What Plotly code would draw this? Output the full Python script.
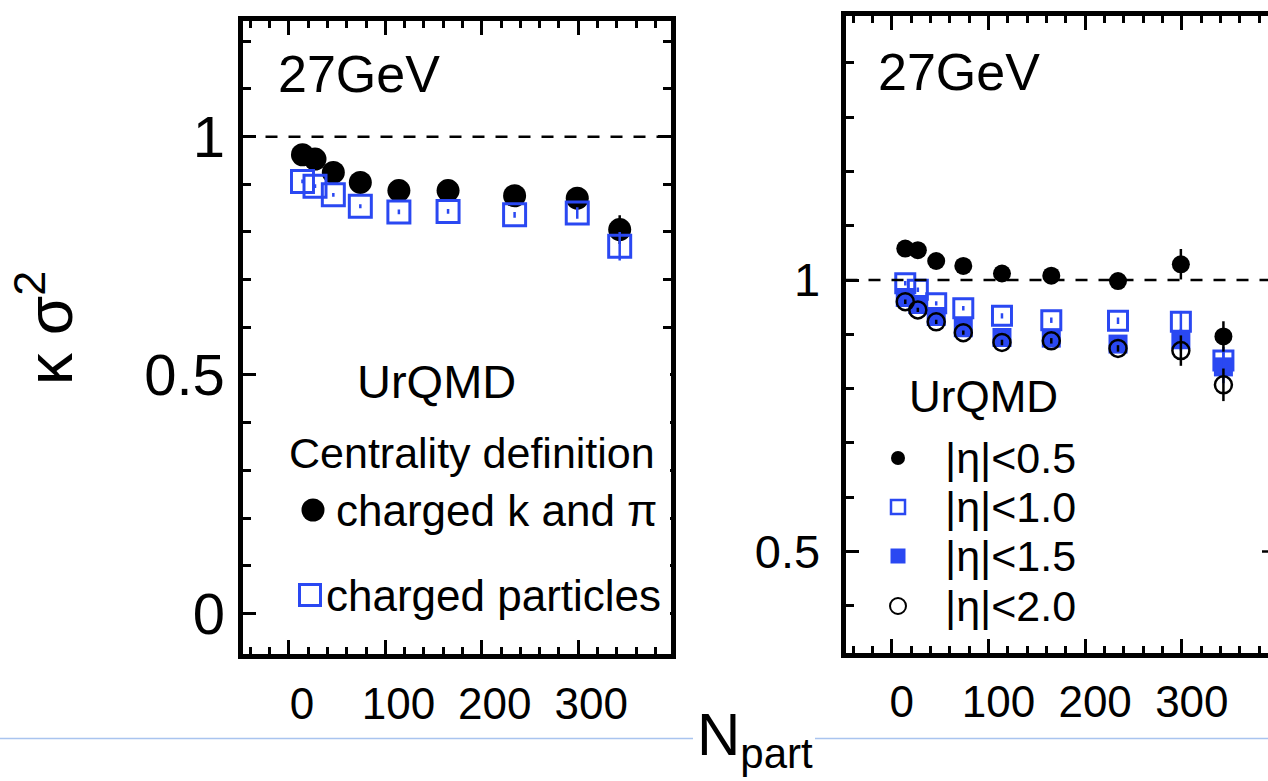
import plotly.graph_objects as go

W, H = 1268, 781

# ---------------- data ----------------
npart = [14, 27, 46, 74, 114, 165, 234, 299, 343]

# left panel: centrality definition
kpi_vals = [0.962, 0.953, 0.925, 0.904, 0.887, 0.887, 0.876, 0.871, 0.805]
kpi_errs = [0.004, 0.004, 0.004, 0.004, 0.005, 0.005, 0.006, 0.012, 0.030]
chg_vals = [0.906, 0.896, 0.878, 0.854, 0.842, 0.843, 0.836, 0.840, 0.770]
chg_errs = [0.004, 0.004, 0.004, 0.004, 0.005, 0.005, 0.006, 0.012, 0.030]

# right panel: eta windows
eta05_vals = [1.058, 1.055, 1.035, 1.026, 1.012, 1.008, 0.998, 1.029, 0.896]
eta05_errs = [0.005, 0.005, 0.005, 0.005, 0.006, 0.006, 0.007, 0.028, 0.028]
eta10_vals = [0.994, 0.982, 0.957, 0.948, 0.934, 0.926, 0.925, 0.923, 0.852]
eta10_errs = [0.004, 0.004, 0.004, 0.004, 0.005, 0.005, 0.006, 0.020, 0.025]
eta15_vals = [0.968, 0.955, 0.933, 0.912, 0.894, 0.893, 0.882, 0.890, 0.840]
eta15_errs = [0.004, 0.004, 0.004, 0.004, 0.005, 0.005, 0.006, 0.020, 0.030]
eta20_vals = [0.960, 0.945, 0.923, 0.903, 0.885, 0.888, 0.874, 0.870, 0.807]
eta20_errs = [0.004, 0.004, 0.004, 0.004, 0.005, 0.005, 0.006, 0.028, 0.030]

left_legend = ["charged k and π", "charged particles"]
right_legend = ["|η|&lt;0.5", "|η|&lt;1.0", "|η|&lt;1.5", "|η|&lt;2.0"]

BLUE = "#2a48f2"
FONT = "Liberation Sans, Arial, sans-serif"


def X(px):
    return px / W


def Y(py):
    return 1 - py / H


fig = go.Figure()

# ---- left panel ----
fig.add_trace(go.Scatter(
    x=npart, y=kpi_vals, mode="markers", xaxis="x", yaxis="y",
    marker=dict(symbol="circle", size=23, color="black"),
    error_y=dict(type="data", array=kpi_errs, color="black", thickness=2.5, width=0)))
fig.add_trace(go.Scatter(
    x=npart, y=chg_vals, mode="markers", xaxis="x", yaxis="y",
    marker=dict(symbol="square-open", size=22, color=BLUE, line=dict(width=3, color=BLUE)),
    error_y=dict(type="data", array=chg_errs, color=BLUE, thickness=2.5, width=0)))

# ---- right panel ----
fig.add_trace(go.Scatter(
    x=npart, y=eta15_vals, mode="markers", xaxis="x2", yaxis="y2",
    marker=dict(symbol="square", size=19, color=BLUE),
    error_y=dict(type="data", array=eta15_errs, color=BLUE, thickness=2.5, width=0)))
fig.add_trace(go.Scatter(
    x=npart, y=eta10_vals, mode="markers", xaxis="x2", yaxis="y2",
    marker=dict(symbol="square-open", size=19, color=BLUE, line=dict(width=3, color=BLUE)),
    error_y=dict(type="data", array=eta10_errs, color=BLUE, thickness=2.5, width=0)))
fig.add_trace(go.Scatter(
    x=npart, y=eta20_vals, mode="markers", xaxis="x2", yaxis="y2",
    marker=dict(symbol="circle-open", size=17, color="black", line=dict(width=2.5, color="black")),
    error_y=dict(type="data", array=eta20_errs, color="black", thickness=2.5, width=0)))
fig.add_trace(go.Scatter(
    x=npart, y=eta05_vals, mode="markers", xaxis="x2", yaxis="y2",
    marker=dict(symbol="circle", size=18, color="black"),
    error_y=dict(type="data", array=eta05_errs, color="black", thickness=2.5, width=0)))


def xaxis_cfg(domain, rng, shift):
    return dict(domain=domain, range=rng, showline=True, linewidth=5, linecolor="black",
                mirror="ticks", ticks="inside", ticklen=14, tickwidth=2.5, tickcolor="black",
                tick0=0, dtick=100, showgrid=False, zeroline=False,
                tickfont=dict(family=FONT, size=44, color="black"),
                ticklabelstandoff=7, ticklabelshift=shift,
                minor=dict(dtick=20, tick0=0, ticks="inside", ticklen=7, tickwidth=2.5,
                           tickcolor="black", showgrid=False))


def yaxis_cfg(domain, rng, mirror, standoff, size):
    return dict(domain=domain, range=rng, showline=True, linewidth=5, linecolor="black",
                mirror=mirror, ticks="inside", ticklen=13, tickwidth=2.5, tickcolor="black",
                tick0=0, dtick=0.5, showgrid=False, zeroline=False,
                tickfont=dict(family=FONT, size=size, color="black"),
                ticklabelstandoff=standoff,
                minor=dict(dtick=0.1, tick0=0, ticks="inside", ticklen=8, tickwidth=2.5,
                           tickcolor="black", showgrid=False))


fig.update_layout(
    width=W, height=H, margin=dict(l=0, r=0, t=0, b=0),
    paper_bgcolor="white", plot_bgcolor="white", showlegend=False,
    font=dict(family=FONT, color="black"),
    xaxis=xaxis_cfg([X(242.5), X(670.5)], [-48.2, 395.7], 13),
    yaxis=yaxis_cfg([Y(654.2), Y(20.8)], [-0.0857, 1.243], "ticks", 1, 58),
    xaxis2=xaxis_cfg([X(845.5), 1.0], [-47.8, 389.1], 10),
    yaxis2=yaxis_cfg([Y(652.5), Y(15.8)], [0.314, 1.4866], False, 11, 47),
)
fig.layout.xaxis2.anchor = "y2"
fig.layout.yaxis2.anchor = "x2"

shapes = []
# dashed reference lines at 1
shapes.append(dict(type="line", xref="x domain", yref="y", x0=0, x1=1, y0=1, y1=1,
                   line=dict(color="black", width=2.5, dash="12px,11px")))
shapes.append(dict(type="line", xref="x2 domain", yref="y2", x0=0, x1=1, y0=1, y1=1,
                   line=dict(color="black", width=2.5, dash="12px,11px")))
# white box of the label area hiding right-side ticks of the left panel
shapes.append(dict(type="rect", xref="paper", yref="paper", x0=X(655), x1=X(670),
                   y0=Y(626), y1=Y(349), fillcolor="white", line=dict(width=0), layer="above"))
# tick of the off-screen right spine of the right panel
shapes.append(dict(type="line", xref="paper", yref="y2", x0=X(1262), x1=1.0, y0=0.5, y1=0.5,
                   line=dict(color="black", width=2.5)))
# slide footer line
shapes.append(dict(type="line", xref="paper", yref="paper", x0=0, x1=X(693), y0=Y(738.5), y1=Y(738.5),
                   line=dict(color="#a9c4ef", width=1.5)))
shapes.append(dict(type="line", xref="paper", yref="paper", x0=X(815), x1=1, y0=Y(738.5), y1=Y(738.5),
                   line=dict(color="#a9c4ef", width=1.5)))


# legend keys
def circle(cx, cy, d, fill, line_color, lw):
    return dict(type="circle", xref="paper", yref="paper", xsizemode="pixel", ysizemode="pixel",
                xanchor=X(cx), yanchor=Y(cy), x0=-d / 2, x1=d / 2, y0=-d / 2, y1=d / 2,
                fillcolor=fill, line=dict(color=line_color, width=lw), layer="above")


def square(cx, cy, d, fill, line_color, lw):
    s = circle(cx, cy, d, fill, line_color, lw)
    s["type"] = "rect"
    return s


shapes.append(circle(313, 510, 23, "black", "black", 0))
shapes.append(square(310, 595, 21, "rgba(0,0,0,0)", BLUE, 3))
shapes.append(circle(898, 458, 14, "black", "black", 0))
shapes.append(square(898, 507, 14, "rgba(0,0,0,0)", BLUE, 2.5))
shapes.append(square(898, 556, 15, BLUE, BLUE, 0))
shapes.append(circle(898, 606, 16, "rgba(0,0,0,0)", "black", 2))
fig.update_layout(shapes=shapes)

ann = []


def text(t, x, y, size, xanchor="left", yanchor="middle", **kw):
    ann.append(dict(text=t, x=X(x), y=Y(y), xref="paper", yref="paper", showarrow=False,
                    xanchor=xanchor, yanchor=yanchor,
                    font=dict(family=FONT, size=size, color="black"), **kw))


text("27GeV", 276, 74, 52)
text("UrQMD", 436, 381, 47, xanchor="center")
text("Centrality definition", 472, 453, 43, xanchor="center")
text(left_legend[0], 334, 510, 44)
text(left_legend[1], 324, 595, 44)

text("27GeV", 876, 72, 52)
text("UrQMD", 984, 396, 44, xanchor="center")
for i, lab in enumerate(right_legend):
    text(lab, 943, [458, 507, 556, 606][i], 43)

# axis titles
text("κ σ<sup>2</sup>", 45, 328, 64, xanchor="center", textangle=-90)
text("N<sub>part</sub>", 755, 739, 60, xanchor="center")

fig.update_layout(annotations=ann)

fig.write_html("out.html")
